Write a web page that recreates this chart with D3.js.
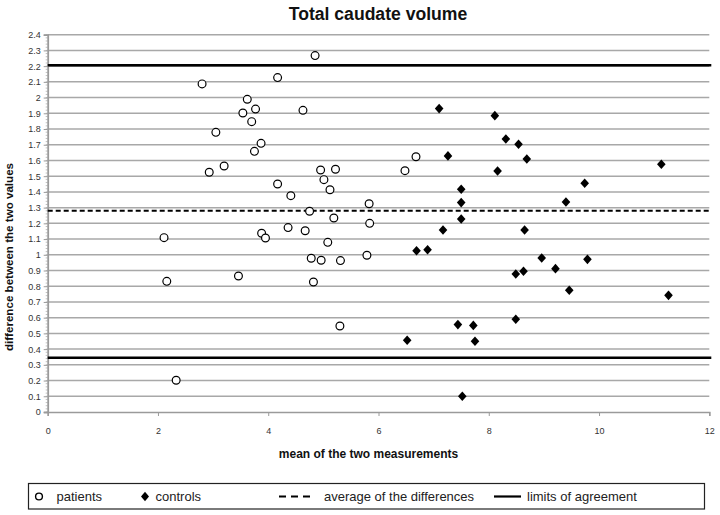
<!DOCTYPE html>
<html><head><meta charset="utf-8">
<script src="https://cdn.jsdelivr.net/npm/d3@7"></script>
<style>body{margin:0;background:#fff}svg{display:block}text{font-family:"Liberation Sans",Arial,sans-serif}</style>
</head><body><svg id="c" width="720" height="515"></svg>
<script>
const patientsX = [2.80,3.05,4.17,4.85,3.62,3.54,3.77,4.63,3.70,3.87,3.75,3.20,2.93,4.95,5.22,5.01,6.68,6.48,5.12,4.17,4.41,5.83,4.75,5.19,5.84,4.36,4.67,3.88,3.95,5.08,4.78,4.96,5.31,5.79,3.46,4.82,5.30,2.11,2.16,2.33];
const patientsY = [2.087,1.779,2.127,2.267,1.989,1.902,1.927,1.919,1.847,1.709,1.658,1.565,1.525,1.539,1.544,1.478,1.624,1.535,1.414,1.450,1.376,1.325,1.277,1.234,1.200,1.173,1.153,1.137,1.107,1.079,0.978,0.965,0.963,0.997,0.865,0.827,0.547,1.109,0.831,0.202];
const controlsX = [8.31,8.54,7.26,8.69,11.13,8.16,9.74,7.50,7.50,9.40,7.50,7.17,8.65,6.69,6.89,8.96,9.79,9.21,8.49,8.63,9.46,11.26,8.49,7.44,7.72,6.52,7.75,7.52,7.10,8.11];
const controlsY = [1.737,1.703,1.629,1.609,1.576,1.533,1.455,1.417,1.332,1.336,1.228,1.158,1.158,1.026,1.032,0.980,0.971,0.912,0.878,0.895,0.774,0.742,0.590,0.556,0.551,0.456,0.450,0.100,1.930,1.885];
const meanDiff = 1.28;
const limits = [0.345, 2.205];
const xTicks = [0,2,4,6,8,10,12];
const yTicks = d3.range(0,25).map(i=>+(i/10).toFixed(1));
const legendLabels = ["patients","controls","average of the differences","limits of agreement"];

const svg = d3.select("#c");
const x = d3.scaleLinear().domain([0,12]).range([47.7,709.3]);
const y = d3.scaleLinear().domain([0,2.4]).range([412,34.7]);

// gridlines
svg.append("g").selectAll("line").data(yTicks.filter(v=>v>0)).join("line")
  .attr("x1",x(0)).attr("x2",x(12)).attr("y1",d=>y(d)).attr("y2",d=>y(d))
  .attr("stroke","#a8a8a8").attr("stroke-width",1.5);

// y axis minor ticks
svg.append("g").selectAll("line").data(d3.range(0,121).map(i=>i*0.02)).join("line")
  .attr("x1",x(0)-2).attr("x2",x(0)).attr("y1",d=>y(d)).attr("y2",d=>y(d))
  .attr("stroke","#b0b0b0").attr("stroke-width",0.8);

// y axis
const ya = svg.append("g").attr("transform",`translate(${x(0)},0)`)
  .call(d3.axisLeft(y).tickValues(yTicks).tickFormat(d=>d3.format("")(d)).tickSize(4).tickPadding(3));
ya.select(".domain").attr("stroke","#9a9a9a").attr("stroke-width",1.8);
ya.selectAll(".tick line").attr("stroke","#9a9a9a");
ya.selectAll("text").attr("font-size",9).attr("fill","#333").attr("font-family","Liberation Sans, Arial, sans-serif");

// x axis
const xa = svg.append("g").attr("transform",`translate(0,${y(0)})`)
  .call(d3.axisBottom(x).tickValues(xTicks).tickSize(4).tickPadding(12));
xa.select(".domain").attr("stroke","#9a9a9a").attr("stroke-width",1.5);
xa.selectAll(".tick line").attr("stroke","#9a9a9a");
xa.selectAll("text").attr("font-size",9).attr("fill","#333").attr("font-family","Liberation Sans Narrow, Liberation Sans, Arial, sans-serif");

// limit lines
svg.append("g").selectAll("line").data(limits).join("line")
  .attr("x1",x(0)).attr("x2",x(12)+2).attr("y1",d=>y(d)).attr("y2",d=>y(d))
  .attr("stroke","#000").attr("stroke-width",2.5);
// mean line
svg.append("line").attr("x1",x(0)).attr("x2",x(12)+2).attr("y1",y(meanDiff)).attr("y2",y(meanDiff))
  .attr("stroke","#000").attr("stroke-width",2).attr("stroke-dasharray","5,3");

// patients
svg.append("g").selectAll("circle").data(patientsX.map((v,i)=>[v,patientsY[i]])).join("circle")
  .attr("cx",d=>x(d[0])).attr("cy",d=>y(d[1])).attr("r",3.9)
  .attr("fill","#fff").attr("stroke","#000").attr("stroke-width",1.2);
// controls
const diamond = (cx,cy,w,h)=>`M${cx},${cy-h}L${cx+w},${cy}L${cx},${cy+h}L${cx-w},${cy}Z`;
svg.append("g").selectAll("path").data(controlsX.map((v,i)=>[v,controlsY[i]])).join("path")
  .attr("d",d=>diamond(x(d[0]),y(d[1]),4.3,4.8)).attr("fill","#000");

// titles
svg.append("text").attr("x",378).attr("y",20).attr("text-anchor","middle")
  .attr("font-size",17.6).attr("font-weight","bold").attr("fill","#111").text("Total caudate volume");
svg.append("text").attr("transform",`translate(13,257) rotate(-90)`).attr("text-anchor","middle")
  .attr("font-size",11.6).attr("font-weight","bold").attr("fill","#111").text("difference between the two values");
svg.append("text").attr("x",368.5).attr("y",458).attr("text-anchor","middle")
  .attr("font-size",12).attr("font-weight","bold").attr("fill","#111").text("mean of the two measurements");

// legend
const lg = svg.append("g");
lg.append("rect").attr("x",28.5).attr("y",483.5).attr("width",676).attr("height",25.5)
  .attr("fill","#fff").attr("stroke","#222").attr("stroke-width",1.2);
const ly = 496.5;
lg.append("circle").attr("cx",39).attr("cy",ly).attr("r",3.4).attr("fill","#fff").attr("stroke","#000").attr("stroke-width",1.4);
lg.append("path").attr("d",diamond(145,ly,4,4.8)).attr("fill","#000");
lg.append("line").attr("x1",279).attr("x2",311).attr("y1",ly).attr("y2",ly).attr("stroke","#000").attr("stroke-width",2).attr("stroke-dasharray","7,5");
lg.append("line").attr("x1",494).attr("x2",521).attr("y1",ly).attr("y2",ly).attr("stroke","#000").attr("stroke-width",2.2);
const lx = [56.5,155.5,324,527];
lg.selectAll("text.l").data(legendLabels).join("text").attr("class","l")
  .attr("x",(d,i)=>lx[i]).attr("y",ly+4.5).attr("font-size",13).attr("fill","#222").text(d=>d);
</script></body></html>
